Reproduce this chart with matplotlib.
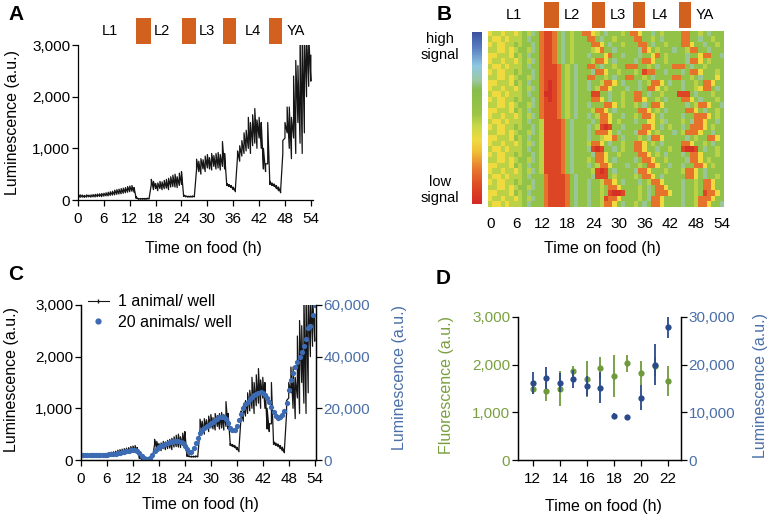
import numpy as np
import matplotlib
matplotlib.use('Agg')
import matplotlib.pyplot as plt
import matplotlib.ticker as mticker
from matplotlib.colors import LinearSegmentedColormap
from matplotlib.lines import Line2D

plt.rcParams['font.family'] = ['Liberation Sans', 'DejaVu Sans']
plt.rcParams['font.size'] = 11

# ---- data ----
# readings every half hour, 0 .. 54 h
t_half = np.arange(0, 54.01, 0.5)

# single animal: lower / upper edge of the noisy trace (a.u.), two values per hour
one_lo = [60, 50, 55, 50, 55, 60, 55, 60, 60, 65, 70, 65, 75, 80, 80, 90, 95, 100,
          110, 115, 120, 130, 140, 150, 160, 170, 150, 30, 15, 15, 15, 15, 15, 20,
          300, 200, 220, 180, 220, 200, 220, 230, 200, 250, 260, 250, 240, 280,
          300, 70, 60, 55, 55, 55, 60, 600, 550, 500, 600, 550, 620, 600, 580, 650,
          600, 620, 580, 650, 600, 280, 260, 240, 200, 160, 850, 750, 850, 900,
          950, 1000, 900, 1050, 1100, 1000, 1200, 1000, 600, 550, 700, 300, 280, 260,
          220, 180, 140, 900, 1200, 1300, 1000, 800, 1200, 900, 1500, 1100, 900, 1300,
          2000, 2200, 2300]
one_hi = [110, 100, 95, 90, 100, 95, 100, 105, 110, 115, 120, 125, 130, 140, 150, 160,
          170, 190, 200, 210, 220, 230, 240, 260, 270, 280, 240, 60, 30, 30, 30, 30,
          35, 40, 400, 360, 320, 330, 360, 350, 380, 400, 420, 450, 480, 500, 450, 520,
          550, 100, 80, 75, 75, 80, 90, 790, 750, 800, 780, 850, 880, 820, 900, 860,
          900, 920, 880, 1130, 900, 320, 300, 280, 250, 220, 950, 1050, 1150, 1300,
          1350, 1600, 1500, 1650, 1770, 1550, 1600, 1500, 1000, 700, 1500, 360, 330, 310,
          280, 250, 200, 1150, 1500, 1800, 1800, 1600, 2400, 2700, 2600, 3200, 3200, 3200,
          3200, 3200, 2800]
# 20 animals per well (a.u.)
twenty = [2000, 1900, 1800, 1800, 1800, 1800, 1800, 1900, 1900, 1900, 2000, 2000,
          2100, 2200, 2300, 2400, 2500, 2700, 2800, 3000, 3200, 3400, 3600, 3800,
          4000, 3900, 3400, 2600, 1600, 900, 500, 400, 700, 1800, 3600, 4400,
          5000, 5400, 5800, 6200, 6500, 6800, 7000, 7200, 7400, 7300, 7100, 6600,
          5600, 4200, 3200, 3000, 4500, 6500, 8500, 10500, 11800, 12500, 13000, 13500,
          14200, 14800, 15500, 16000, 16500, 16800, 16500, 15800, 14200, 12500, 11500, 11800,
          13000, 15500, 18000, 20000, 21500, 22500, 23500, 24200, 25000, 25500, 26000, 26200,
          25800, 25000, 24000, 22500, 20500, 18500, 17000, 16200, 16500, 17500, 19000, 22000,
          27000, 31000, 33500, 36000, 38000, 40000, 42000, 44000, 47000, 51000, 52000, 56000,
          60000]

stages = ['L1', 'L2', 'L3', 'L4', 'YA']
stage_x_a = [7.5, 19.5, 29.9, 40.6, 50.5]
leth_start_a = [13.4, 24.1, 33.6, 44.3]
leth_end_a = [16.9, 27.3, 36.6, 47.3]
stage_x_b = [5.4, 18.9, 29.7, 39.5, 50.0]
leth_start_b = [12.4, 23.6, 33.2, 43.9]
leth_end_b = [15.9, 26.6, 36.0, 46.7]

# heat map, one row per animal, one cell per hour (0..54)
# R dark red, r red, o orange, y yellow, l lime, g green, c light blue, b blue
heat_rows = [
    "yllyllylglcg" "orrogcglgg" "ooylgcggglg" "ooyggcglggg" "googglgcggg",
    "lyylylllgcgg" "orrogcglgg" "googcgglggg" "googglgcggg" "googgcgglgg",
    "ylyyllglggcg" "orrogcglgg" "ggooygcgglg" "ggoogcgglgg" "gooyggcgglg",
    "llyylylgglcg" "orrogcglgg" "gglyoggcggg" "ggcoyglgggc" "gglooggcggg",
    "yylllyglgcgg" "orrogcglgg" "gcgggyoggcg" "ggcggyoglgg" "ggcggyooggc",
    "yllyllylglcg" "orrogcglgg" "gglooygcggg" "gcgooygglgg" "ggcooyglggg",
    "lyylylllgcgg" "orrroglgcg" "googcgglggo" "oogglgcgggo" "oogcgglgggg",
    "ylyyllglggcg" "orrroglgcg" "ggcooygglgg" "glgrooggcgg" "gcgooyggglg",
    "llyylylgglcg" "orrroglgcg" "googglgcggo" "ogglgcggggo" "ogglgcgggyg",
    "yylllyglgcgg" "orRroglgcg" "gcgglooygcg" "ggcglooygcg" "gcgglgooygg",
    "yllyllylglcg" "orRroglgcg" "gcglooygggc" "ggcgooyglgg" "gcgglyoogcg",
    "lyylylllgcgg" "oRRroglgcg" "ggrrggcgglg" "googcgglggg" "rrrgcggglgg",
    "ylyyllglggcg" "orRroglgcg" "ggooygcgglg" "gooygglgcgg" "gooygcggglg",
    "llyylylgglcg" "orrroglgcg" "gcgggooyglg" "glgcgooyggg" "ggcglooyggc",
    "yylllyglgcgg" "orrroglgcg" "gglooygcggg" "ggooyglgcgg" "ggooygcgglg",
    "yllyllylglcg" "orrroglgcg" "gcglooyggcg" "glgooygcggg" "gcggoooyglg",
    "lyylylllgcgg" "lrrrrogcgg" "ggcgooyglgg" "gcggyyglcgg" "glgcooyggcg",
    "ylyyllglggcg" "lrrrrogcgg" "gcglrRrggcg" "gggooygcglg" "gcgoooyglgg",
    "llyylylgglcg" "lrrrrogcgg" "gcgoooygcgg" "gcooyglgggc" "gloooyggcgg",
    "yylllyglgcgg" "lrrrrogcgg" "gcgglyyogcg" "gglgcooyggg" "ggcglggooyg",
    "yllyllylglcg" "lrrrrogcgg" "glooygcgglg" "gooyglgcggg" "gooygglgcgg",
    "lyylylllgcgg" "lrrrrogcgg" "gcrRrggcglg" "gooyggcgglg" "grRRrgcgglg",
    "ylyyllglggcg" "lrrrrogcgg" "ggcooygglgg" "ggooyglgcgg" "gcgooyggglg",
    "llyylylgglcg" "lrrrrogcgg" "glgooygcggg" "gcgooygglgg" "ggcooyglggg",
    "yylllyglgcgg" "lrrrrogcgg" "gcglooygggc" "gglgooyggcg" "gcggooyglgg",
    "yllyllylglcg" "lrrrrogcgg" "gglrRrgcggg" "gcooyggglgg" "glooygcgggg",
    "lyylylllgcgg" "gorrrrogcg" "ggcrrrglggg" "glgooygcggg" "ggooygcgglg",
    "ylyyllglggcg" "gorrrrogcg" "gcgglooygcg" "ggcglooyggg" "gcgglgooygg",
    "llyylylgglcg" "gorrrrogcg" "gcgglgooygg" "gglgcgooygg" "gcgglgooygg",
    "yylllyglgcgg" "gorrrrogcg" "gcgglgrRRrg" "gglgcgoooyg" "gcgglgrooyg",
    "yllyllylglcg" "gorrrrogcg" "gcgglrooygg" "gglgcooyggg" "gcggloooygg",
    "lyylylllgcgg" "gorrrrogcg" "gcgglooygcg" "glgcgooyggg" "gcgglooyggc",
]
level = {'R': 0.02, 'r': 0.09, 'o': 0.19, 'y': 0.37, 'l': 0.47,
         'g': 0.58, 'c': 0.71, 'b': 0.95}

# panel D
d_time = [12, 13, 14, 15, 16, 17, 18, 19, 20, 21, 22]
fluo = [1490, 1440, 1500, 1870, 1700, 1940, 1770, 2030, 1830, 1970, 1660]
fluo_err = [100, 200, 370, 110, 380, 220, 440, 180, 250, 200, 320]
lum = [16250, 17250, 16250, 16950, 15500, 15200, 9300, 8950, 13050, 20000, 27800]
lum_err = [2300, 2300, 1900, 1900, 2100, 3300, 600, 300, 2600, 4300, 2300]

# ---- style ----
W, H = 771, 515
ORANGE = '#d2601e'
BLUE_C = '#3d6bb3'
BLUE_TXT = '#4a6fa8'
GREEN = '#6f9a3c'
GREEN_TXT = '#7aa040'
NAVY = '#2b4a8b'

heat_cmap = LinearSegmentedColormap.from_list('sig', [
    (0.0, '#d42a26'), (0.1, '#de4a24'), (0.2, '#e7792e'), (0.3, '#efbf36'),
    (0.37, '#efdc40'), (0.45, '#c9d846'), (0.52, '#9cc646'), (0.66, '#88bd4c'),
    (0.72, '#9cc8a4'), (0.8, '#8fc9e2'), (0.9, '#5b82c2'), (1.0, '#3a4f9f')])

thousands = mticker.FuncFormatter(lambda v, p: f'{int(v):,}')


def px_axes(l, t, r, b):
    return fig.add_axes([l / W, 1 - b / H, (r - l) / W, (b - t) / H])


def ftext(x, y, s, **kw):
    fig.text(x / W, 1 - y / H, s, **kw)


def style(ax):
    ax.tick_params(direction='out', length=4, width=0.9, labelsize=11)
    ax.tick_params(axis='x', pad=4.5)
    ax.tick_params(axis='y', pad=1.5)
    for s in ax.spines.values():
        s.set_linewidth(0.9)


def stage_bar(ax, starts, ends, xs, y0, y1, ylab):
    tr = ax.get_xaxis_transform()
    for s, e in zip(starts, ends):
        ax.add_patch(plt.Rectangle((s, y0), e - s, y1 - y0, transform=tr,
                                   color=ORANGE, clip_on=False, lw=0))
    for name, x in zip(stages, xs):
        ax.text(x, ylab, name, transform=tr, ha='center', va='center', fontsize=10.5)


fig = plt.figure(figsize=(W / 100, H / 100), dpi=100)

zz_t = np.repeat(t_half, 2)
zz_v = np.column_stack([one_lo, one_hi]).ravel()

# ---- A ----
ax = px_axes(78, 45, 313, 200)
ax.plot(zz_t, zz_v, color='#151515', lw=0.9)
ax.set_xlim(0, 54.5)
ax.set_ylim(0, 3000)
ax.set_xticks(range(0, 55, 6))
ax.set_yticks([0, 1000, 2000, 3000])
ax.yaxis.set_major_formatter(thousands)
ax.spines[['top', 'right']].set_visible(False)
style(ax)
stage_bar(ax, leth_start_a, leth_end_a, stage_x_a, 1.006, 1.174, 1.09)
ftext(13, 123, 'Luminescence (a.u.)', rotation=90, ha='center', va='center', fontsize=11.5)
ftext(203, 248, 'Time on food (h)', ha='center', va='center', fontsize=11.5)
ftext(8, 15, 'A', fontweight='bold', fontsize=15, va='center')

# ---- B ----
axb = px_axes(488, 31, 724, 207)
img = np.array([[level[ch] for ch in row] for row in heat_rows])
axb.imshow(img, cmap=heat_cmap, vmin=0, vmax=1, aspect='auto',
           extent=(-0.6, 54.5, len(heat_rows), 0), interpolation='nearest')
axb.set_xlim(-0.6, 54.5)
axb.set_xticks(range(0, 55, 6))
axb.set_yticks([])
axb.tick_params(length=0, labelsize=11, pad=7)
for s in axb.spines.values():
    s.set_visible(False)
stage_bar(axb, leth_start_b, leth_end_b, stage_x_b, 1.017, 1.165, 1.09)
axcb = px_axes(472, 32, 482, 204)
axcb.imshow(np.linspace(0, 1, 200)[:, None], cmap=heat_cmap, aspect='auto', origin='lower')
axcb.axis('off')
ftext(440, 47, 'high\nsignal', ha='center', va='center', fontsize=10.5, linespacing=1.1)
ftext(440, 190, 'low\nsignal', ha='center', va='center', fontsize=10.5, linespacing=1.1)
ftext(602, 248, 'Time on food (h)', ha='center', va='center', fontsize=11.5)
ftext(437, 15, 'B', fontweight='bold', fontsize=15, va='center')

# ---- C ----
axc = px_axes(81, 305, 316, 460)
axc.plot(zz_t, zz_v, color='#151515', lw=0.9)
axc.set_xlim(0, 54.3)
axc.set_ylim(0, 3000)
axc.set_xticks(range(0, 55, 6))
axc.set_yticks([0, 1000, 2000, 3000])
axc.yaxis.set_major_formatter(thousands)
axc.spines['top'].set_visible(False)
style(axc)
axc2 = axc.twinx()
axc2.plot(t_half, twenty, 'o', color=BLUE_C, ms=3.8, mec='none')
axc2.set_ylim(0, 60000)
axc2.set_yticks([0, 20000, 40000, 60000])
axc2.yaxis.set_major_formatter(thousands)
axc2.spines['top'].set_visible(False)
style(axc2)
axc2.tick_params(axis='y', labelcolor=BLUE_TXT, pad=1.5)
handles = [Line2D([], [], color='#151515', lw=0.8, marker='|', ms=3),
           Line2D([], [], color=BLUE_C, ls='none', marker='o', ms=4.5, mec='none')]
axc.legend(handles, ['1 animal/ well', '20 animals/ well'], loc='upper left',
           bbox_to_anchor=(0.03, 1.07), frameon=False, borderpad=0, borderaxespad=0,
           handlelength=1.3, handletextpad=0.6, labelspacing=0.35, fontsize=11.5)
ftext(12, 380, 'Luminescence (a.u.)', rotation=90, ha='center', va='center', fontsize=11.5)
ftext(399, 378, 'Luminescence (a.u.)', rotation=90, ha='center', va='center',
      fontsize=11.5, color=BLUE_TXT)
ftext(200, 505, 'Time on food (h)', ha='center', va='center', fontsize=11.5)
ftext(8, 275, 'C', fontweight='bold', fontsize=15, va='center')

# ---- D ----
axd = px_axes(518, 317, 681, 460)
axd.errorbar(d_time, fluo, yerr=fluo_err, fmt='o', color=GREEN, ms=4.5, elinewidth=1.3,
             capsize=0, mec='none')
axd.set_xlim(10.9, 22.96)
axd.set_ylim(0, 3000)
axd.set_xticks(range(12, 23, 2))
axd.set_yticks([0, 1000, 2000, 3000])
axd.yaxis.set_major_formatter(thousands)
axd.spines['top'].set_visible(False)
style(axd)
axd.tick_params(axis='y', labelcolor=GREEN_TXT)
axd2 = axd.twinx()
axd2.errorbar(d_time, lum, yerr=lum_err, fmt='o', color=NAVY, ms=4.5, elinewidth=1.3,
              capsize=0, mec='none')
axd2.set_ylim(0, 30000)
axd2.set_yticks([0, 10000, 20000, 30000])
axd2.yaxis.set_major_formatter(thousands)
axd2.spines['top'].set_visible(False)
style(axd2)
axd2.tick_params(axis='y', labelcolor=BLUE_TXT)
ftext(446, 385, 'Fluorescence (a.u.)', rotation=90, ha='center', va='center',
      fontsize=11.5, color=GREEN_TXT)
ftext(761, 385, 'Luminescence (a.u.)', rotation=90, ha='center', va='center',
      fontsize=11.5, color=BLUE_TXT)
ftext(603, 507, 'Time on food (h)', ha='center', va='center', fontsize=11.5)
ftext(436, 278, 'D', fontweight='bold', fontsize=15, va='center')

fig.savefig('out.png', dpi=100)
